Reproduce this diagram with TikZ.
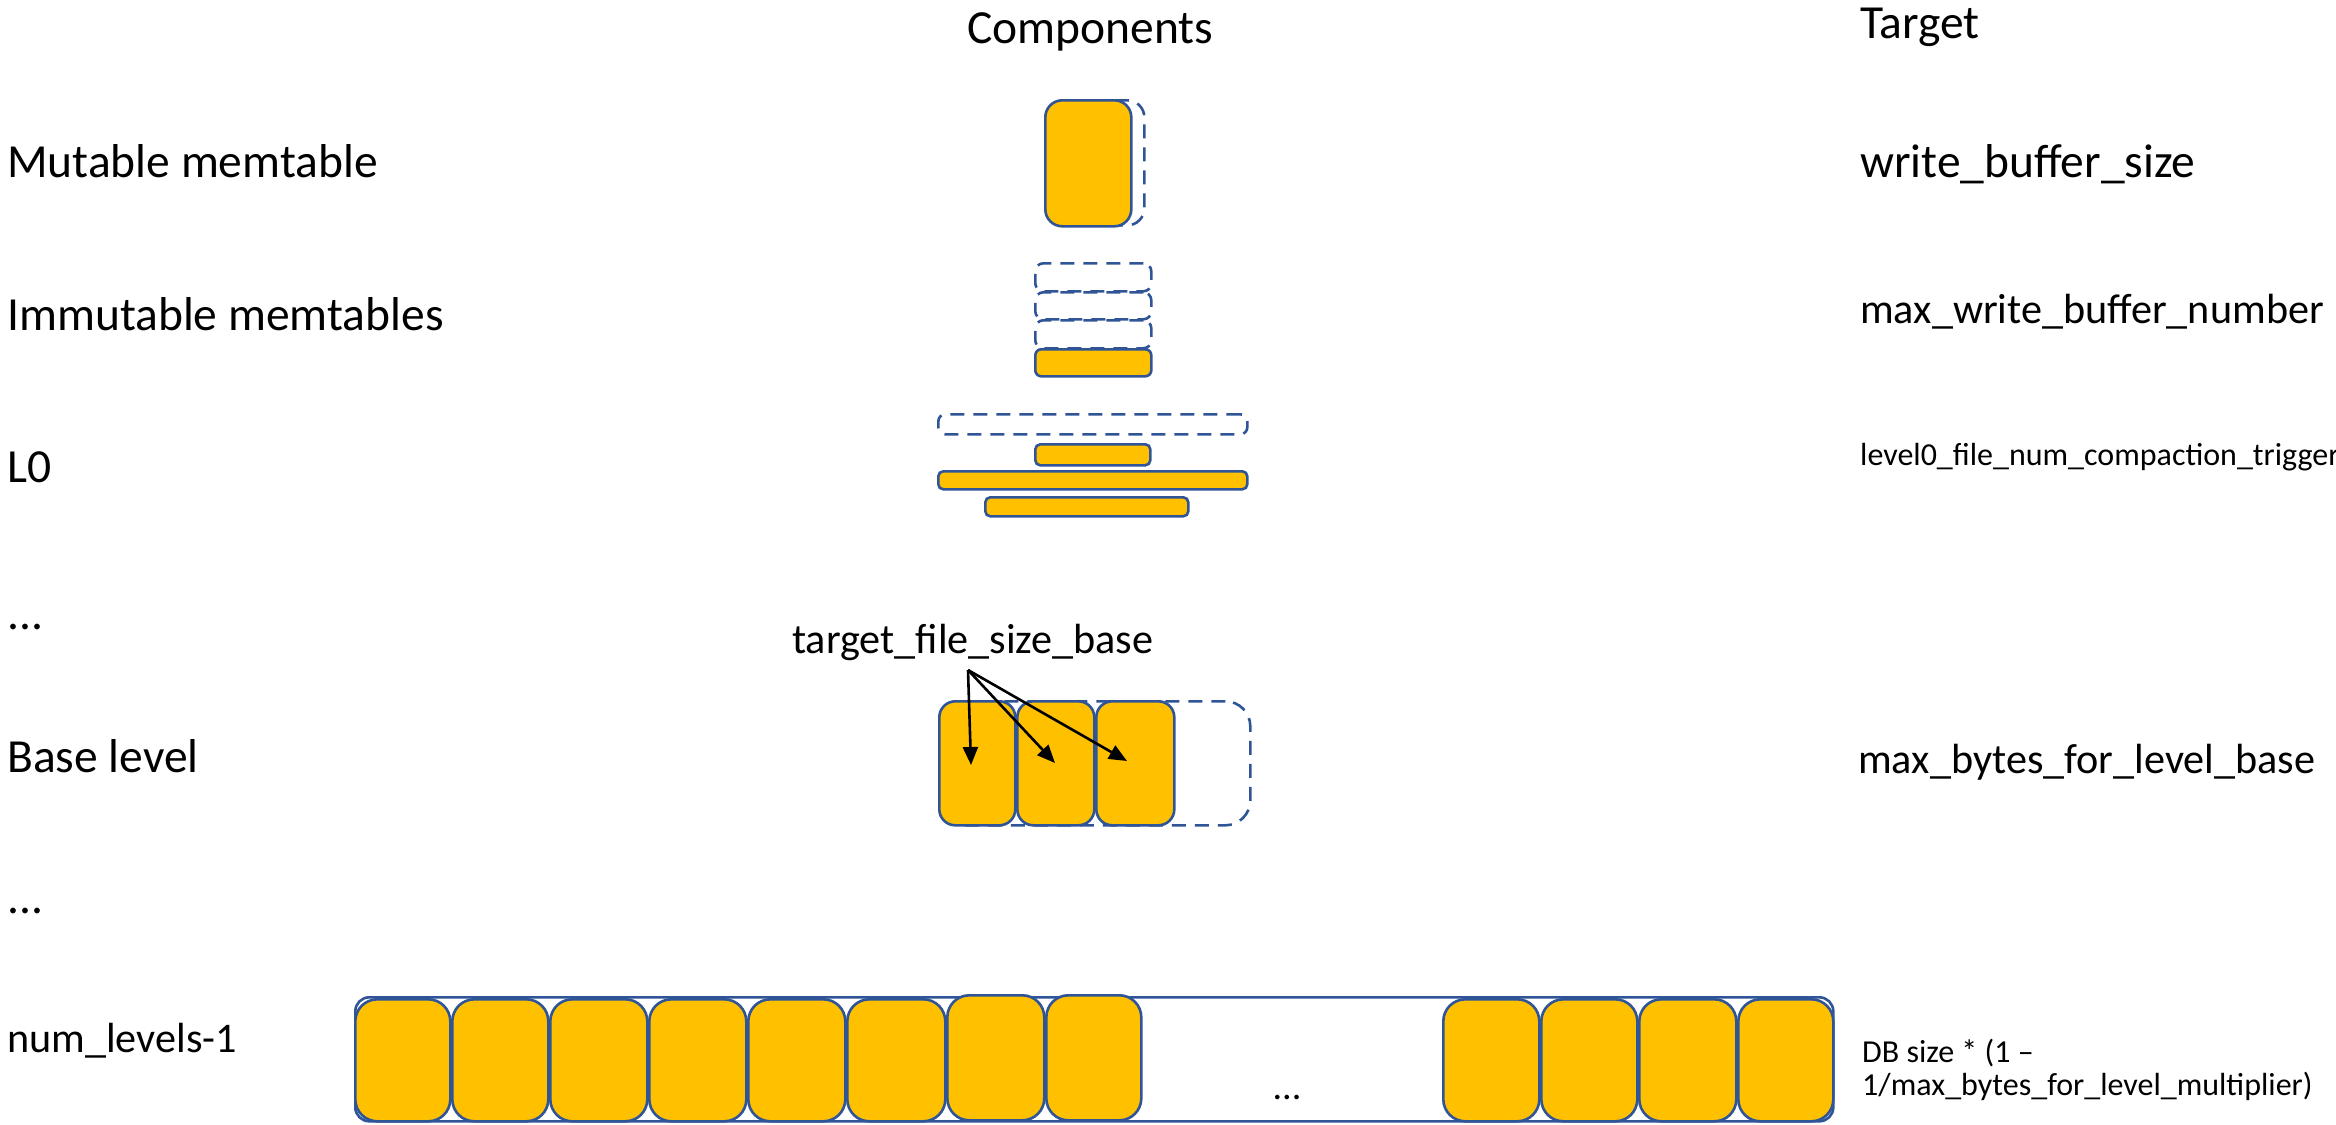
\documentclass[tikz,border=0pt]{standalone}
\usepackage{fontspec}
\setmainfont{Carlito}
\usetikzlibrary{arrows.meta}
\definecolor{filec}{HTML}{FFC000}
\definecolor{bordc}{HTML}{2F5597}
\begin{document}
\begin{tikzpicture}[x=1pt,y=-1pt,
  file/.style={draw=bordc, fill=filec, line width=2.6pt, rounded corners=#1, rectangle, inner sep=0pt, anchor=north west},
  file/.default=16pt,
  ghost/.style={draw=bordc, dash pattern=on 14pt off 9pt, line width=2.6pt, rounded corners=#1, rectangle, inner sep=0pt, anchor=north west},
  ghost/.default=16pt,
  frame/.style={draw=bordc, line width=2.6pt, rounded corners=14pt, rectangle, inner sep=0pt, anchor=north west},
  big/.style={font=\fontsize{47.5}{56}\selectfont, inner sep=0pt, anchor=base west},
  mid/.style={font=\fontsize{42.2}{50}\selectfont, inner sep=0pt, anchor=base west},
  small/.style={font=\fontsize{32}{33}\selectfont, inner sep=0pt, anchor=base west},
  arr/.style={line width=2.6pt, -{Triangle[length=18pt,width=15pt]}}
]
\useasboundingbox (0,0) rectangle (2336,1124);

% headings
\node[big] (hcomp) at (967,44) {Components};
\node[big] (htarget) at (1860,38) {Target};

% left labels
\node[big] (lmut) at (7,177) {Mutable memtable};
\node[big] (limm) at (7,330) {Immutable memtables};
\node[big] (ll0) at (7,482) {L0};
\node[big] (ldots1) at (7,629) {...};
\node[big] (lbase) at (7,772) {Base level};
\node[big] (ldots2) at (7,913) {...};
\node[mid] (llast) at (7,1052) {num\_levels-1};

% right labels
\node[big] (rmut) at (1860,177) {write\_buffer\_size};
\node[mid] (rimm) at (1860,323) {max\_write\_buffer\_number};
\node[small] (rl0) at (1860,465) {level0\_file\_num\_compaction\_trigger};
\node[mid] (rbase) at (1858,773) {max\_bytes\_for\_level\_base};
\node[small, align=left] (rlast) at (1862,1095) {DB size * (1 –\\1/max\_bytes\_for\_level\_multiplier)};

% mutable memtable
\node[ghost=17pt, minimum width=86pt, minimum height=125pt] (mutg) at (1057,99) {};
\node[file=17pt, minimum width=86pt, minimum height=126pt] (mut) at (1044,99) {};

% immutable memtables
\node[ghost=8pt, minimum width=116pt, minimum height=28pt] (img1) at (1034,262) {};
\node[ghost=8pt, minimum width=116pt, minimum height=27pt] (img2) at (1034,291) {};
\node[ghost=8pt, minimum width=116pt, minimum height=28pt] (img3) at (1034,319) {};
\node[file=6pt, minimum width=116pt, minimum height=27pt] (imm) at (1034,348) {};

% L0
\node[ghost=7pt, minimum width=309pt, minimum height=20pt] (l0g) at (937,413) {};
\node[file=5pt, minimum width=115pt, minimum height=21pt] (l0a) at (1034,443) {};
\node[file=5pt, minimum width=309pt, minimum height=18pt] (l0b) at (937,470) {};
\node[file=5pt, minimum width=203pt, minimum height=19pt] (l0c) at (984,496) {};

% base level
\node[ghost=25pt, minimum width=311pt, minimum height=124pt] (bg) at (938,700) {};
\node[file=16pt, minimum width=76pt, minimum height=124pt] (b1) at (938,700) {};
\node[file=16pt, minimum width=77pt, minimum height=124pt] (b2) at (1016,700) {};
\node[file=16pt, minimum width=78pt, minimum height=124pt] (b3) at (1095,700) {};

\node[mid] (tfsb) at (792,653) {target\_file\_size\_base};
\coordinate (src) at (968,670);
\coordinate (t1) at (971,765);
\coordinate (t2) at (1055,763);
\coordinate (t3) at (1127,761);
\draw[arr] (src) -- (t1);
\draw[arr] (src) -- (t2);
\draw[arr] (src) -- (t3);

% last level
\node[frame, minimum width=1478pt, minimum height=124pt] (lastframe) at (354,996) {};
\node[file=22pt, minimum width=95pt, minimum height=122pt] (f1) at (354,998) {};
\node[file=22pt, minimum width=96pt, minimum height=122pt] (f2) at (451,998) {};
\node[file=22pt, minimum width=97pt, minimum height=122pt] (f3) at (549,998) {};
\node[file=22pt, minimum width=97pt, minimum height=122pt] (f4) at (648,998) {};
\node[file=22pt, minimum width=97pt, minimum height=122pt] (f5) at (747,998) {};
\node[file=22pt, minimum width=98pt, minimum height=122pt] (f6) at (846,998) {};
\node[file=22pt, minimum width=97pt, minimum height=125pt] (f7) at (946,994) {};
\node[file=22pt, minimum width=95pt, minimum height=125pt] (f8) at (1045,994) {};
\node[font=\fontsize{38}{40}\selectfont, inner sep=0pt, anchor=base] (lastdots) at (1287,1099) {...};
\node[file=22pt, minimum width=96pt, minimum height=122pt] (f9) at (1442,998) {};
\node[file=22pt, minimum width=96pt, minimum height=122pt] (f10) at (1540,998) {};
\node[file=22pt, minimum width=97pt, minimum height=122pt] (f11) at (1638,998) {};
\node[file=22pt, minimum width=95pt, minimum height=122pt] (f12) at (1737,998) {};
\end{tikzpicture}
\end{document}
